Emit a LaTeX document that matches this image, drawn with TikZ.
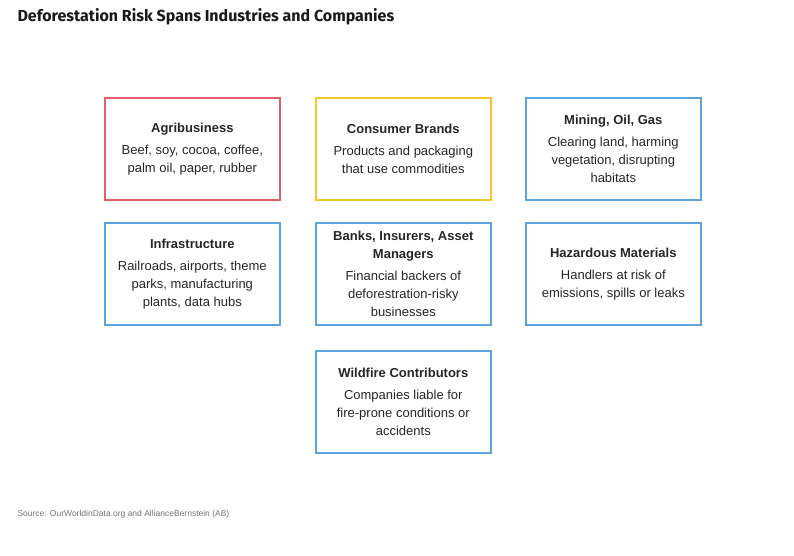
\documentclass[tikz,border=0pt]{standalone}
\usepackage{fontspec}
\setmainfont{Liberation Sans}
\newfontfamily\titlefont{Fira Sans}
\begin{document}
\begin{tikzpicture}[x=1pt,y=-1pt,
  card/.style={draw=#1,line width=1.6pt,minimum width=175pt,minimum height=102pt,anchor=north west,inner sep=0pt},
  body/.style={align=center,font=\fontsize{13}{18}\selectfont,text=black!85}]
\definecolor{cred}{HTML}{E0606A}
\definecolor{cyel}{HTML}{F2C72E}
\definecolor{cblu}{HTML}{5BA3DA}
\useasboundingbox (0,0) rectangle (794,556);
\node[anchor=west,font=\titlefont\bfseries\fontsize{16}{18}\selectfont,text=black!90] (title) at (14,17) {Deforestation Risk Spans Industries and Companies};
\node[card=cred] (a) at (104,97) {};
\node[card=cyel] (b) at (315,97) {};
\node[card=cblu] (c) at (525,97) {};
\node[card=cblu] (d) at (104,222) {};
\node[card=cblu] (e) at (315,222) {};
\node[card=cblu] (f) at (525,222) {};
\node[card=cblu] (g) at (315,350) {};
\node[body] (ta) at (a.center) {\textbf{Agribusiness}\\[4pt]Beef, soy, cocoa, coffee,\\palm oil, paper, rubber};
\node[body] (tb) at (b.center) {\textbf{Consumer Brands}\\[4pt]Products and packaging\\that use commodities};
\node[body] (tc) at (c.center) {\textbf{Mining, Oil, Gas}\\[4pt]Clearing land, harming\\vegetation, disrupting\\habitats};
\node[body] (td) at (d.center) {\textbf{Infrastructure}\\[4pt]Railroads, airports, theme\\parks, manufacturing\\plants, data hubs};
\node[body] (te) at (e.center) {\textbf{Banks, Insurers, Asset}\\\textbf{Managers}\\[4pt]Financial backers of\\deforestration-risky\\businesses};
\node[body] (tf) at (f.center) {\textbf{Hazardous Materials}\\[4pt]Handlers at risk of\\emissions, spills or leaks};
\node[body] (tg) at (g.center) {\textbf{Wildfire Contributors}\\[4pt]Companies liable for\\fire-prone conditions or\\accidents};
\node[anchor=west,font=\fontsize{8.5}{11}\selectfont,text=black!55] (src) at (14,514) {Source: OurWorldinData.org and AllianceBernstein (AB)};
\end{tikzpicture}
\end{document}
